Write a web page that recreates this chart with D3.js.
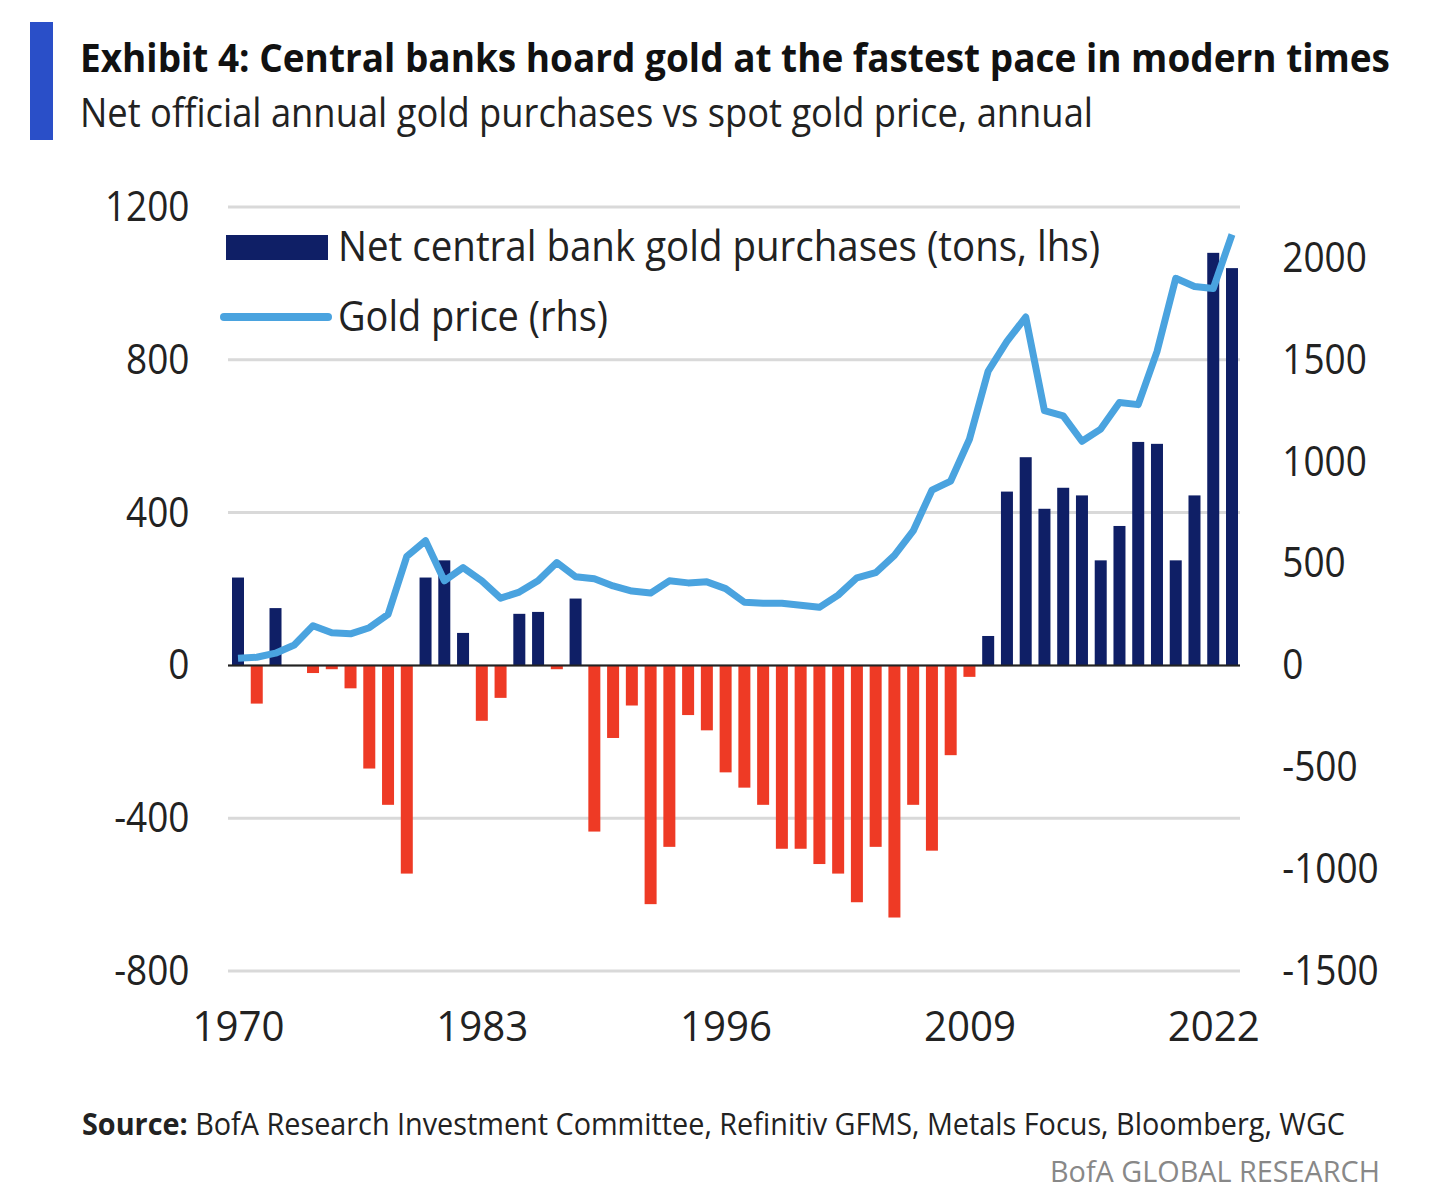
<!DOCTYPE html>
<html><head><meta charset="utf-8">
<script src="https://cdn.jsdelivr.net/npm/d3@7"></script>
<style>body{margin:0;background:#fff}text{font-family:"Open Sans",sans-serif}</style>
</head><body>
<script>
const years = d3.range(1970, 2024);
const purchases = [230,-100,150,0,-20,-10,-60,-270,-365,-545,230,275,85,-145,-85,135,140,-10,175,-435,-190,-105,-625,-475,-130,-170,-280,-320,-365,-480,-480,-520,-545,-620,-475,-660,-365,-485,-235,-30,77,455,545,410,465,445,275,365,585,580,275,445,1080,1040];
const goldPrice = [35,40,60,100,195,160,155,185,250,535,612,415,480,415,330,360,415,505,435,425,390,365,355,415,405,410,377,310,305,305,295,285,345,430,455,540,660,860,905,1110,1445,1590,1710,1250,1225,1100,1160,1290,1280,1540,1900,1860,1850,2115];
const leftTicks = [-800,-400,0,400,800,1200];
const rightTicks = [-1500,-1000,-500,0,500,1000,1500,2000];
const xTicks = [1970,1983,1996,2009,2022];

const W=1456,H=1193;
const svg=d3.select("body").append("svg").attr("width",W).attr("height",H);
const x=d3.scaleLinear().domain([1970,2023]).range([238,1232]);
const y=d3.scaleLinear().domain([-800,1200]).range([971,207]);
const y2=d3.scaleLinear().domain([-1500,2250]).range([971,207]);

function fit(sel,len){sel.attr("textLength",len).attr("lengthAdjust","spacingAndGlyphs");return sel;}

svg.append("rect").attr("x",30).attr("y",22).attr("width",23).attr("height",118).attr("fill","#2a4fc8");
fit(svg.append("text").attr("x",80).attr("y",72).attr("font-size",40).attr("font-weight","bold").attr("fill","#111").text("Exhibit 4: Central banks hoard gold at the fastest pace in modern times"),1310);
fit(svg.append("text").attr("x",80).attr("y",127).attr("font-size",40).attr("fill","#222").text("Net official annual gold purchases vs spot gold price, annual"),1013);

svg.append("g").selectAll("line").data(leftTicks).join("line")
 .attr("x1",228).attr("x2",1240).attr("y1",d=>y(d)).attr("y2",d=>y(d))
 .attr("stroke","#d9d9d9").attr("stroke-width",3);

const fmt=d=>String(d);
const yAx=svg.append("g").attr("transform","translate(200,0)")
 .call(d3.axisLeft(y).tickValues(leftTicks).tickSize(0).tickFormat(fmt));
yAx.select(".domain").remove();
yAx.selectAll("text").attr("font-size",42).attr("fill","#222").attr("x",-14).style("font-family","'Open Sans',sans-serif").attr("transform","scale(0.88,1)").attr("x",-12);

const yAx2=svg.append("g").attr("transform","translate(1270,0)")
 .call(d3.axisRight(y2).tickValues(rightTicks).tickSize(0).tickFormat(fmt));
yAx2.select(".domain").remove();
yAx2.selectAll("text").attr("font-size",42).attr("fill","#222").attr("x",14).style("font-family","'Open Sans',sans-serif").attr("transform","scale(0.88,1)");

const xAx=svg.append("g").attr("transform","translate(0,1000)")
 .call(d3.axisBottom(x).tickValues(xTicks).tickSize(0).tickFormat(fmt));
xAx.select(".domain").remove();
xAx.selectAll("text").attr("font-size",42).attr("fill","#222").attr("dy","0.9em").style("font-family","'Open Sans',sans-serif");
xAx.selectAll(".tick").each(function(){const t=d3.select(this).select("text");fit(t,92);});

svg.append("g").selectAll("rect").data(years).join("rect")
 .attr("x",(d)=>x(d)-6).attr("width",12)
 .attr("y",(d,i)=>y(Math.max(0,purchases[i])))
 .attr("height",(d,i)=>Math.abs(y(purchases[i])-y(0)))
 .attr("fill",(d,i)=>purchases[i]>=0?"#0f1f66":"#ee3a25");

svg.append("line").attr("x1",228).attr("x2",1240).attr("y1",y(0)).attr("y2",y(0)).attr("stroke","#222").attr("stroke-width",2);

svg.append("path").datum(years).attr("fill","none").attr("stroke","#4aa3df").attr("stroke-width",7)
 .attr("stroke-linejoin","round")
 .attr("d",d3.line().x(d=>x(d)).y((d,i)=>y2(goldPrice[i])));

svg.append("rect").attr("x",226).attr("y",235).attr("width",102).attr("height",25).attr("fill","#0f1f66");
fit(svg.append("text").attr("x",338).attr("y",261).attr("font-size",42).attr("fill","#222").text("Net central bank gold purchases (tons, lhs)"),762);
svg.append("line").attr("x1",224).attr("x2",328).attr("y1",317).attr("y2",317).attr("stroke","#4aa3df").attr("stroke-width",8).attr("stroke-linecap","round");
fit(svg.append("text").attr("x",338).attr("y",331).attr("font-size",42).attr("fill","#222").text("Gold price (rhs)"),270);

const s=svg.append("text").attr("x",82).attr("y",1135).attr("font-size",31).attr("fill","#222");
s.append("tspan").attr("font-weight","bold").text("Source:");
s.append("tspan").text(" BofA Research Investment Committee, Refinitiv GFMS, Metals Focus, Bloomberg, WGC");
fit(s,1263);
fit(svg.append("text").attr("x",1050).attr("y",1182).attr("font-size",30).attr("fill","#888").text("BofA GLOBAL RESEARCH"),330);
</script>
</body></html>
